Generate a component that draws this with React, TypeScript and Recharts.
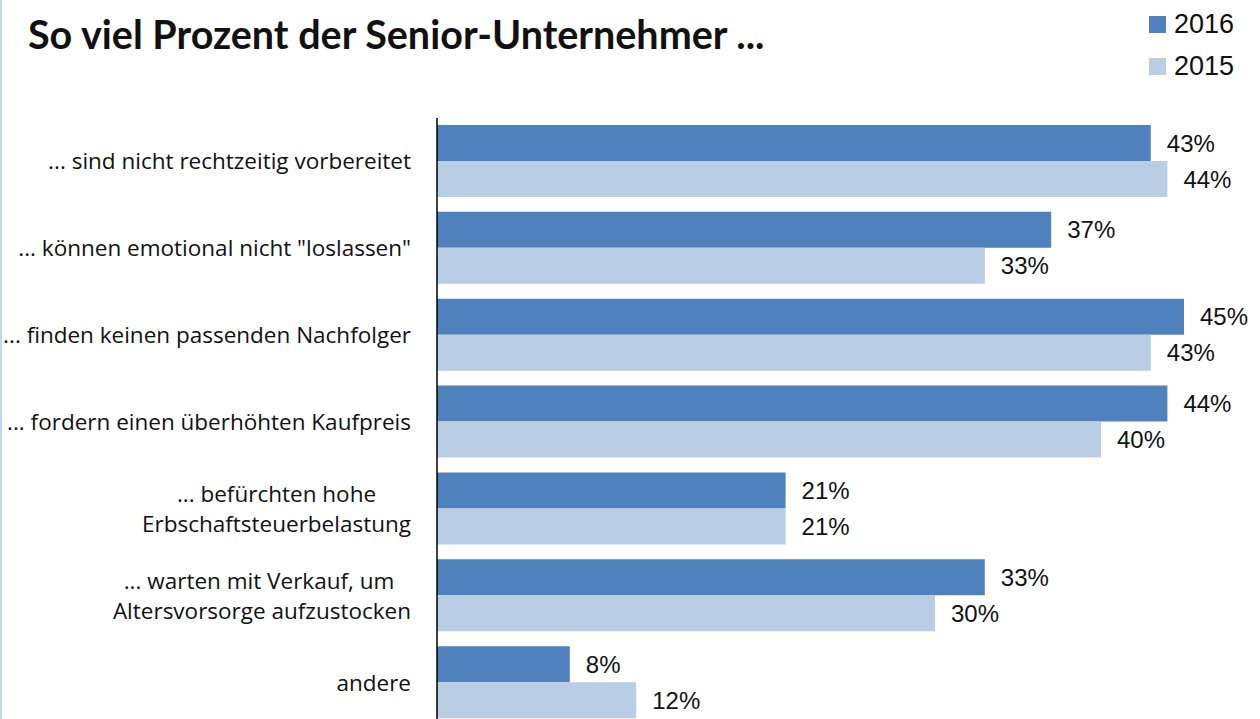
import { BarChart, Bar, XAxis, YAxis, LabelList } from 'recharts';

const categories = [
  '... sind nicht rechtzeitig vorbereitet',
  '... können emotional nicht "loslassen"',
  '... finden keinen passenden Nachfolger',
  '... fordern einen überhöhten Kaufpreis',
  '... befürchten hohe\nErbschaftsteuerbelastung',
  '... warten mit Verkauf, um\u00a0\nAltersvorsorge aufzustocken',
  'andere',
];
const values2016 = [43, 37, 45, 44, 21, 33, 8];
const values2015 = [44, 33, 43, 40, 21, 30, 12];
const seriesNames = ['2016', '2015'];

const data = categories.map((name, i) => ({
  name,
  y2016: values2016[i],
  y2015: values2015[i],
}));

const DARK = '#4f81bd';
const LIGHT = '#b9cde5';
const LABEL_FONT = '"Open Sans", "Lato", sans-serif';
const VALUE_FONT = '"Liberation Sans", Arial, sans-serif';

const CategoryTick = (props: any) => {
  const { x, y, payload } = props;
  const lines = String(payload.value).split('\n');
  const h = lines.length * 30;
  return (
    <foreignObject x={x - 430} y={y - h / 2} width={412} height={h}>
      <div
        style={{
          display: 'flex',
          justifyContent: 'flex-end',
          height: '100%',
          fontFamily: LABEL_FONT,
          fontSize: 22.5,
          lineHeight: '30px',
          color: '#111',
        }}
      >
        <div style={{ textAlign: 'center', whiteSpace: 'pre' }}>{lines.join('\n')}</div>
      </div>
    </foreignObject>
  );
};

export default function App() {
  return (
    <div
      style={{
        position: 'absolute',
        left: 0,
        top: 0,
        width: 1260,
        height: 719,
        overflow: 'hidden',
        background: '#fff',
        borderLeft: '2px solid #c6d7ec',
        boxSizing: 'border-box',
      }}
    >
      <div
        style={{
          position: 'absolute',
          left: 26,
          top: 10,
          fontFamily: '"Lato", "Open Sans", sans-serif',
          fontWeight: 700,
          fontSize: 39.5,
          color: '#111',
          whiteSpace: 'nowrap',
        }}
      >
        So viel Prozent der Senior-Unternehmer ...
      </div>
      <div
        style={{
          position: 'absolute',
          left: 1147,
          top: 3,
          fontFamily: VALUE_FONT,
          fontSize: 27,
          color: '#111',
        }}
      >
        {seriesNames.map((label, i) => (
          <div key={label} style={{ display: 'flex', alignItems: 'center', height: 42 }}>
            <span style={{ width: 17, height: 17, background: i === 0 ? DARK : LIGHT, marginRight: 8 }} />
            {label}
          </div>
        ))}
      </div>
      <div style={{ position: 'absolute', left: -2, top: 0 }}>
        <BarChart
          layout="vertical"
          width={1260}
          height={726}
          data={data}
          margin={{ top: 118, right: 76, bottom: 0, left: 0 }}
          barGap={0}
          barSize={36}
        >
          <XAxis type="number" domain={[0, 45]} hide />
          <YAxis
            type="category"
            dataKey="name"
            width={437}
            axisLine={{ stroke: '#000', strokeWidth: 1.5 }}
            tickLine={false}
            tick={<CategoryTick />}
          />
          <Bar dataKey="y2016" name={seriesNames[0]} fill={DARK} isAnimationActive={false}>
            <LabelList
              dataKey="y2016"
              position="right"
              offset={16}
              formatter={(v: any) => `${v}%`}
              style={{ fontFamily: VALUE_FONT, fontSize: 24, fill: '#111' }}
            />
          </Bar>
          <Bar dataKey="y2015" name={seriesNames[1]} fill={LIGHT} isAnimationActive={false}>
            <LabelList
              dataKey="y2015"
              position="right"
              offset={16}
              formatter={(v: any) => `${v}%`}
              style={{ fontFamily: VALUE_FONT, fontSize: 24, fill: '#111' }}
            />
          </Bar>
        </BarChart>
      </div>
    </div>
  );
}
